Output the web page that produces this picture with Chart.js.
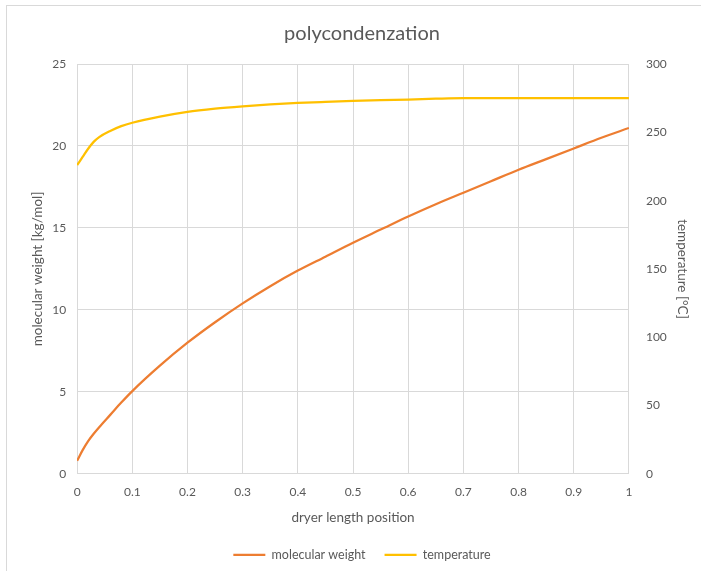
<!DOCTYPE html>
<html>
<head>
<meta charset="utf-8">
<script src="https://cdn.jsdelivr.net/npm/chart.js@4"></script>
<style>
  html, body { margin: 0; padding: 0; background: #fff; }
  #frame { position: absolute; left: 6px; top: 5px; width: 720px; height: 600px; border: 1px solid #d9d9d9; }
  #wrap { position: absolute; left: 0; top: 0; width: 701px; height: 571px; }
</style>
</head>
<body>
<div id="frame"></div>
<div id="wrap"><canvas id="myChart" width="701" height="571"></canvas></div>
<script>
// values
let posicion = [0, 0.01, 0.02, 0.03, 0.04, 0.06, 0.08, 0.1, 0.15, 0.2, 0.25, 0.3, 0.35, 0.4, 0.45, 0.5, 0.55, 0.6, 0.65, 0.7, 0.75, 0.8, 0.85, 0.9, 0.95, 1]
let pesoMolecular = [0.8, 1.45, 2.0, 2.45, 2.85, 3.6, 4.35, 5.05, 6.6, 8.0, 9.25, 10.4, 11.45, 12.4, 13.25, 14.1, 14.9, 15.7, 16.45, 17.15, 17.85, 18.55, 19.2, 19.85, 20.5, 21.1]
let temperatura = [226, 232, 238, 243, 246.5, 251, 254.5, 257, 261.5, 265, 267.3, 269, 270.4, 271.5, 272.3, 273, 273.6, 274, 274.6, 275, 275, 275, 275, 275, 275, 275]

let tituloX = "dryer length position"
let tituloY1 = "molecular weight [kg/mol]"
let tituloY2 = "temperature [°C]"

const gris = '#595959'
const fuente = "Lato, 'Open Sans', sans-serif"

function puntos(vals){
  let arr = []
  for (let i = 0; i < posicion.length; i++) {
    arr.push({x: posicion[i], y: vals[i]})
  }
  return arr
}

const data = {
  datasets: [{
    label: 'molecular weight',
    data: puntos(pesoMolecular),
    borderColor: '#ED7D31',
    backgroundColor: '#ED7D31',
    borderWidth: 2.25,
    pointRadius: 0,
    cubicInterpolationMode: 'monotone',
    yAxisID: 'y'
  }, {
    label: 'temperature',
    data: puntos(temperatura),
    borderColor: '#FFC000',
    backgroundColor: '#FFC000',
    borderWidth: 2.25,
    pointRadius: 0,
    cubicInterpolationMode: 'monotone',
    yAxisID: 'y2'
  }]
}

const config = {
  type: 'line',
  data: data,
  options: {
    responsive: false,
    animation: false,
    layout: { padding: { left: 30, right: 7, top: 16, bottom: 0 } },
    plugins: {
      title: {
        display: true,
        text: 'polycondenzation',
        color: gris,
        font: { family: fuente, size: 20, weight: 'normal' },
        padding: { top: 6, bottom: 18 }
      },
      legend: {
        position: 'bottom',
        labels: {
          usePointStyle: true,
          pointStyle: 'line',
          pointStyleWidth: 32,
          color: gris,
          font: { family: fuente, size: 12.5 },
          padding: 19
        }
      },
      tooltip: { enabled: false }
    },
    scales: {
      x: {
        type: 'linear',
        min: 0,
        max: 1,
        ticks: {
          stepSize: 0.1,
          color: gris,
          padding: 11,
          font: { family: fuente, size: 12 },
          callback: (v) => Number(v.toFixed(1)).toString()
        },
        grid: { color: '#d9d9d9', drawTicks: false },
        border: { color: '#d9d9d9' },
        title: { display: true, text: tituloX, color: gris, font: { family: fuente, size: 13.5 }, padding: { top: -1 } }
      },
      y: {
        position: 'left',
        min: 0,
        max: 25,
        ticks: { stepSize: 5, color: gris, font: { family: fuente, size: 12 }, padding: 11 },
        grid: { color: '#d9d9d9', drawTicks: false },
        border: { color: '#d9d9d9' },
        title: { display: true, text: tituloY1, color: gris, font: { family: fuente, size: 13.5 }, padding: { top: 0, bottom: -5 } }
      },
      y2: {
        position: 'right',
        min: 0,
        max: 300,
        ticks: { stepSize: 50, color: gris, font: { family: fuente, size: 12 }, padding: 17 },
        grid: { drawOnChartArea: false, drawTicks: false },
        border: { color: '#d9d9d9' },
        title: { display: true, text: tituloY2, color: gris, font: { family: fuente, size: 13.5 }, padding: { top: 4, bottom: -10 } }
      }
    }
  }
}

const myChart = new Chart(document.getElementById('myChart'), config)
</script>
</body>
</html>
